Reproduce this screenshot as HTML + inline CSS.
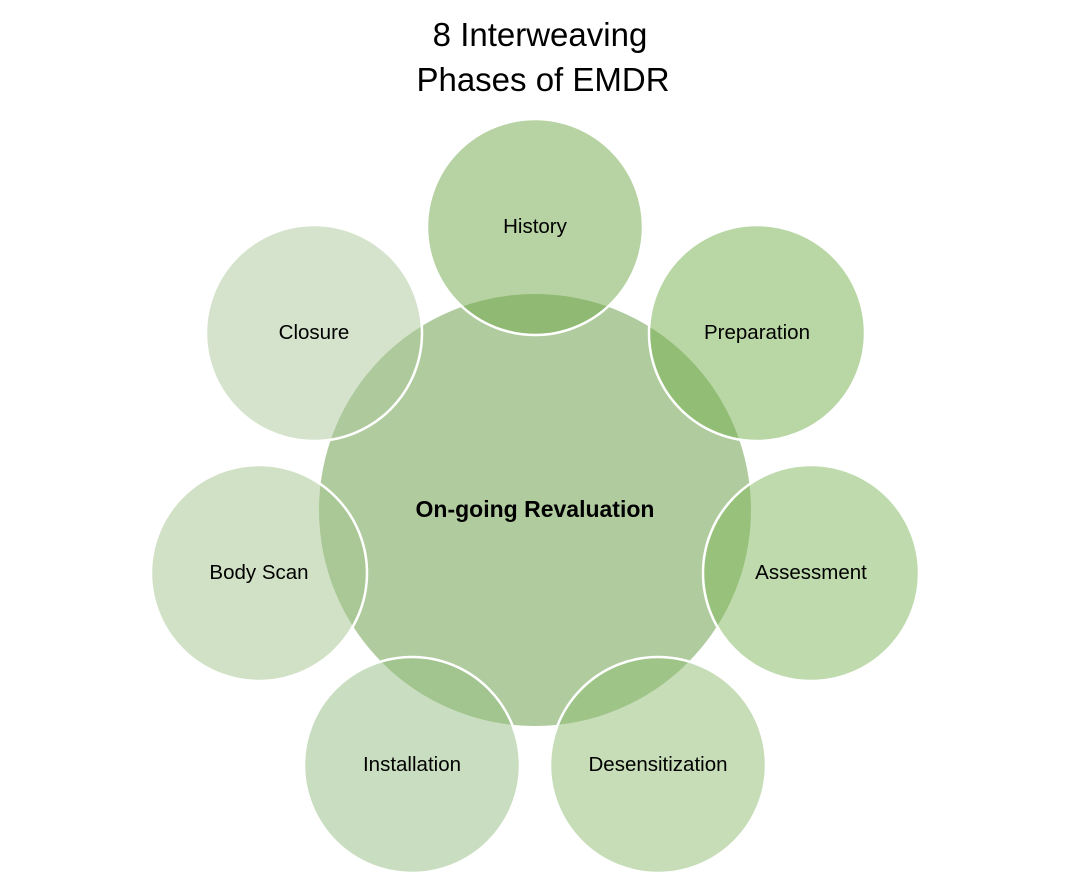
<!DOCTYPE html>
<html><head><style>body{margin:0;background:#fff}</style></head><body>
<svg width="1071" height="882" xmlns="http://www.w3.org/2000/svg" font-family="Liberation Sans, sans-serif">
<text x="540" y="46" font-size="33" text-anchor="middle" fill="#000">8 Interweaving</text>
<text x="543" y="91" font-size="33" text-anchor="middle" fill="#000">Phases of EMDR</text>
<circle cx="535" cy="510" r="216" fill="#b0cc9f"/>
<g stroke="#fff" stroke-width="2.5">
<circle cx="535" cy="227" r="108" fill="rgb(111,168,72)" fill-opacity="0.5"/>
<circle cx="757" cy="333" r="108" fill="rgb(116,173,75)" fill-opacity="0.5"/>
<circle cx="811" cy="573" r="108" fill="rgb(127,181,89)" fill-opacity="0.5"/>
<circle cx="658" cy="765" r="108" fill="rgb(141,187,113)" fill-opacity="0.5"/>
<circle cx="412" cy="765" r="108" fill="rgb(147,189,129)" fill-opacity="0.5"/>
<circle cx="259" cy="573" r="108" fill="rgb(161,195,139)" fill-opacity="0.5"/>
<circle cx="314" cy="333" r="108" fill="rgb(171,199,153)" fill-opacity="0.5"/>
</g>
<g font-size="20.5" text-anchor="middle" fill="#000">
<text x="535" y="233">History</text>
<text x="757" y="339">Preparation</text>
<text x="811" y="579">Assessment</text>
<text x="658" y="771">Desensitization</text>
<text x="412" y="771">Installation</text>
<text x="259" y="579">Body Scan</text>
<text x="314" y="339">Closure</text>
<text x="535" y="517" font-weight="bold" font-size="23">On-going Revaluation</text>
</g>
</svg>
</body></html>
